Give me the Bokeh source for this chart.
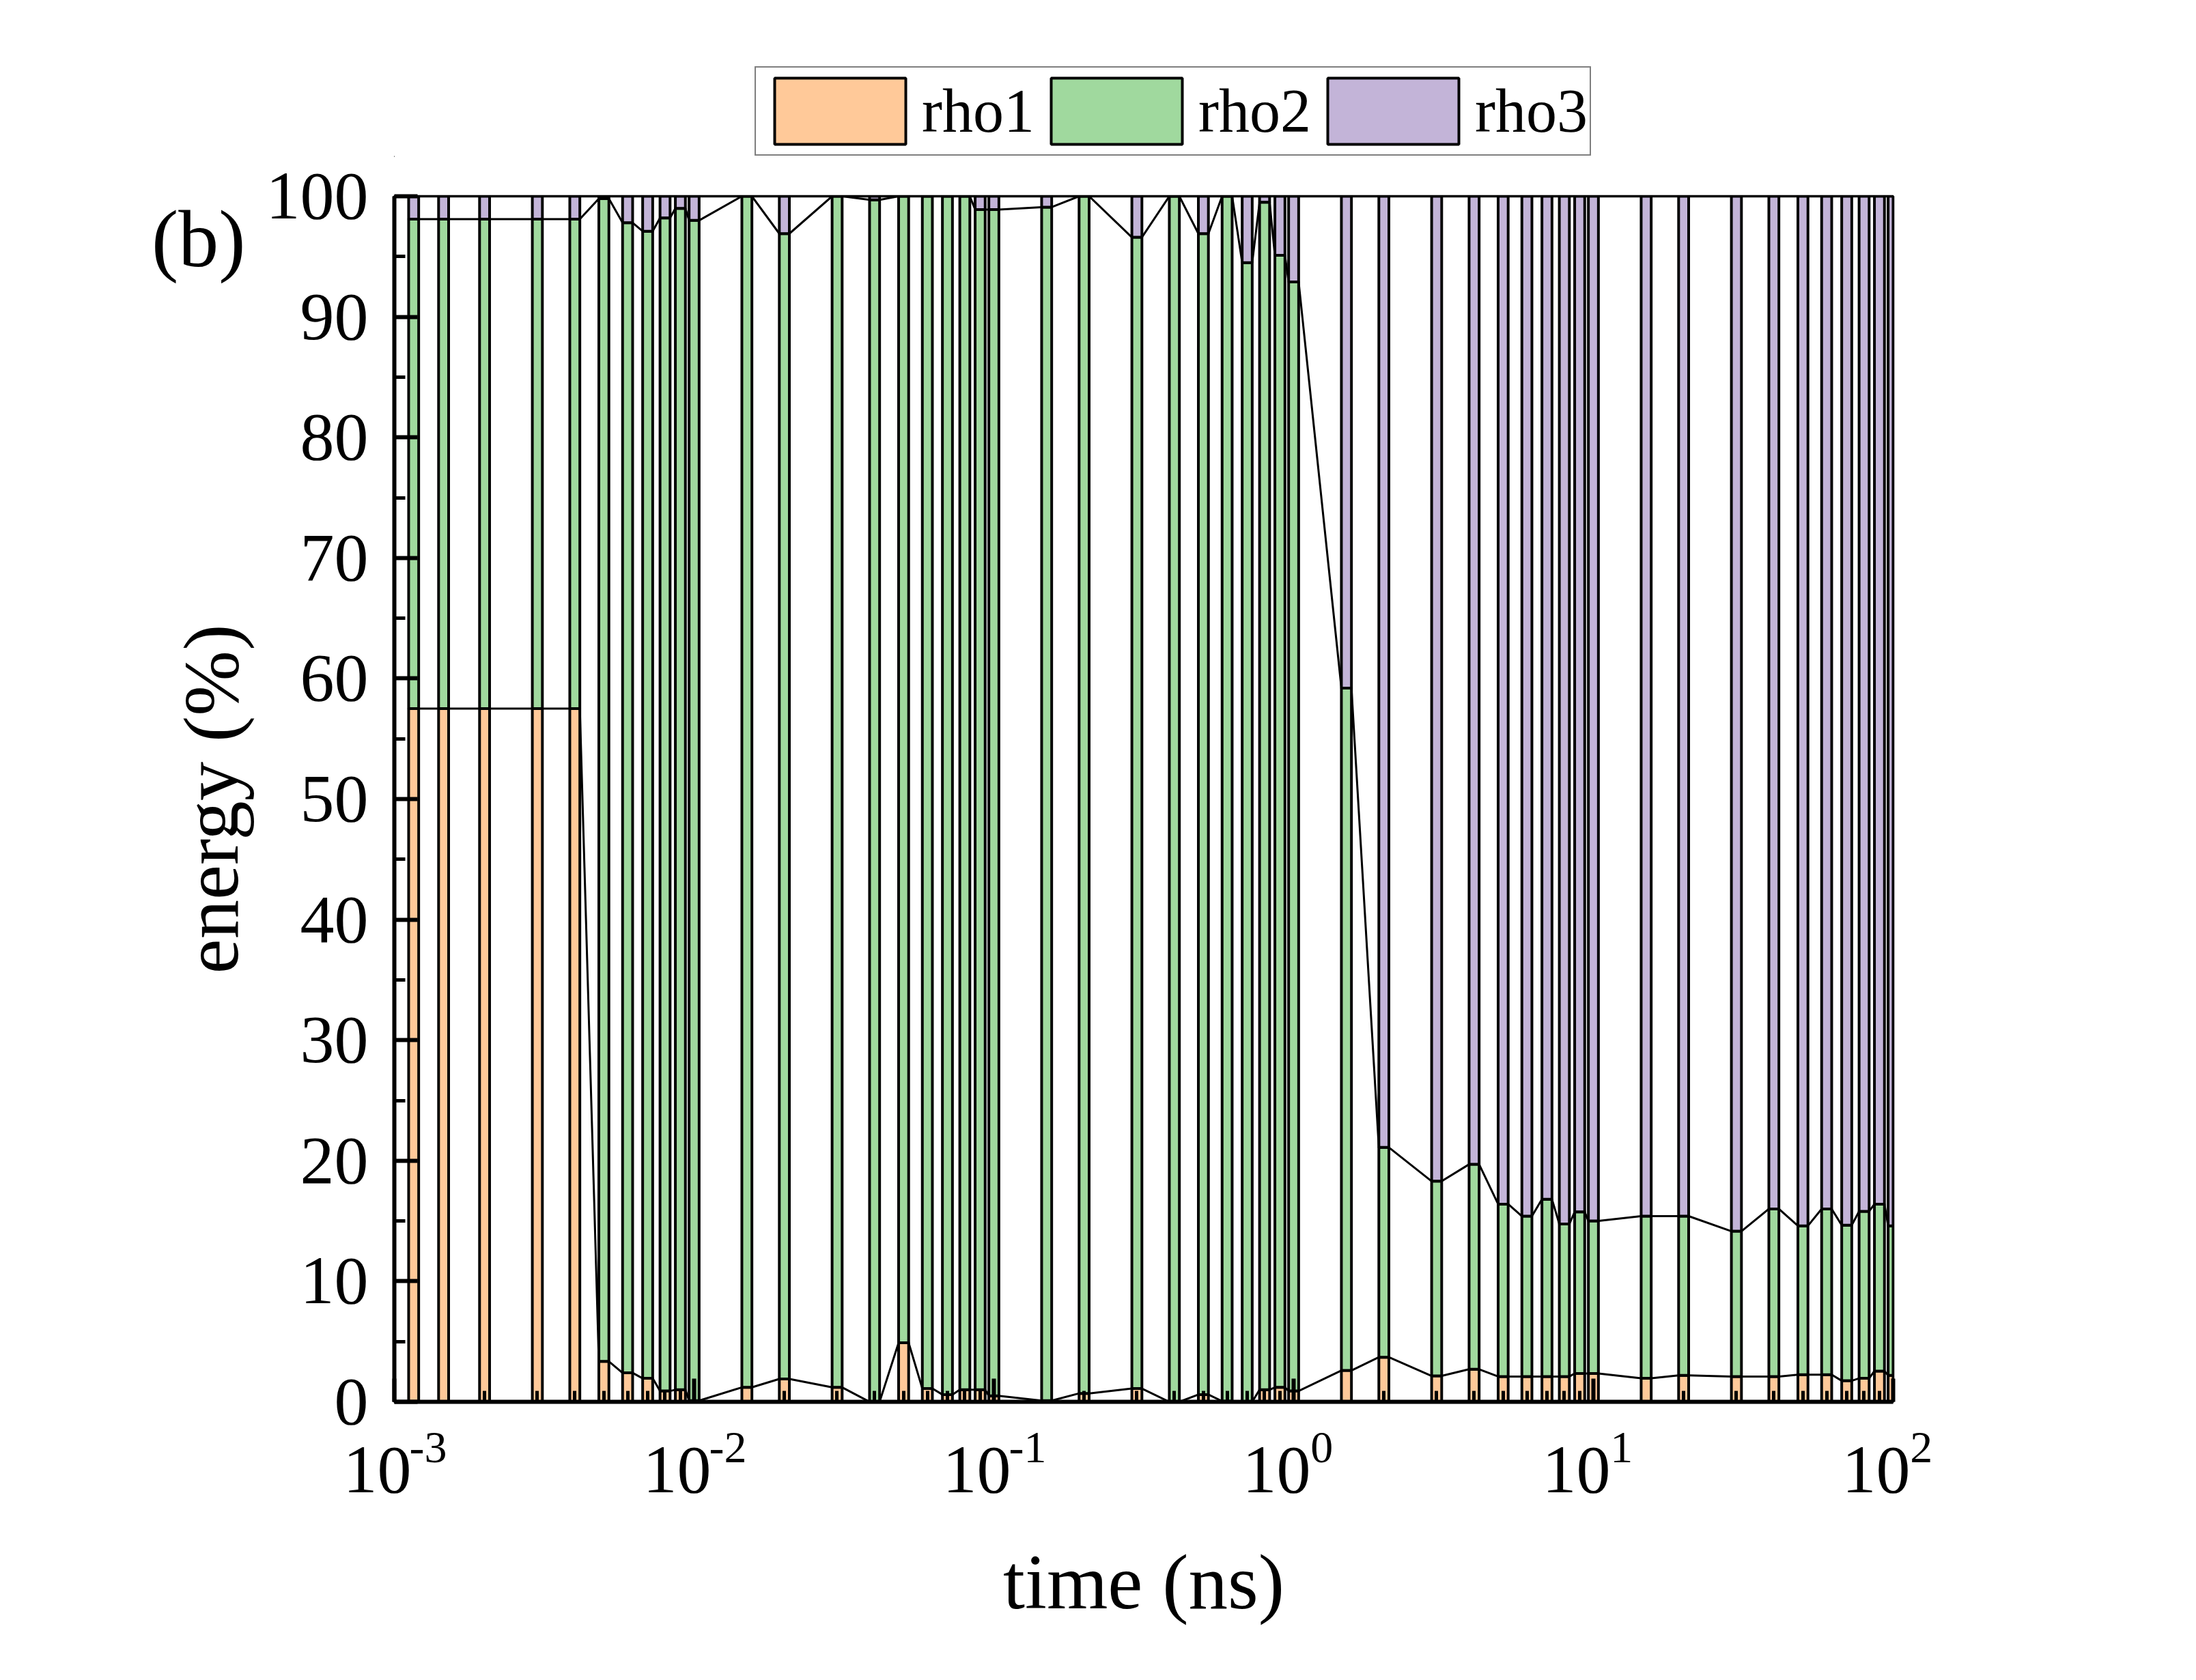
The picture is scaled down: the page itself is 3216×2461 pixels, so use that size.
import math
from bokeh.plotting import figure
from bokeh.layouts import column
from bokeh.models import (Range1d, FixedTicker, Legend, LegendItem, LinearAxis,
                          ColumnDataSource)
from bokeh.embed import file_html
from bokeh.resources import INLINE

# ---------------- data ----------------
times = [0.00116, 0.00146, 0.002, 0.003, 0.004, 0.005, 0.006, 0.007, 0.008, 0.009,
         0.01, 0.015, 0.02, 0.03, 0.04, 0.05, 0.06, 0.07, 0.08, 0.09,
         0.1, 0.15, 0.2, 0.3, 0.4, 0.5, 0.6, 0.7, 0.8, 0.9,
         1.0, 1.5, 2, 3, 4, 5, 6, 7, 8, 9,
         10, 15, 20, 30, 40, 50, 60, 70, 80, 90, 100]

rho1 = [57.5, 57.5, 57.5, 57.5, 57.5, 3.35, 2.4, 1.95, 0.9, 1.0,
        0.1, 1.2, 1.9, 1.2, 0.0, 4.9, 1.1, 0.6, 1.0, 1.0,
        0.5, 0.1, 0.7, 1.1, 0.0, 0.6, 0.05, 0.0, 1.0, 1.2,
        0.9, 2.6, 3.7, 2.15, 2.7, 2.1, 2.1, 2.1, 2.1, 2.35,
        2.35, 1.95, 2.2, 2.1, 2.1, 2.25, 2.25, 1.75, 1.95, 2.55, 2.2]

rho2 = [40.6, 40.6, 40.6, 40.6, 40.6, 96.45, 95.4, 95.15, 97.3, 98.0,
        97.9, 98.8, 95.0, 98.8, 99.7, 95.1, 98.9, 99.4, 99.0, 97.9,
        98.4, 99.0, 99.3, 95.5, 100.0, 96.3, 99.95, 94.5, 98.5, 93.9,
        92.0, 56.6, 17.4, 16.15, 17.0, 14.3, 13.3, 14.7, 12.65, 13.4,
        12.65, 13.45, 13.2, 12.05, 13.9, 12.35, 13.75, 12.9, 13.85, 13.85, 12.4]

rho3 = [1.9, 1.9, 1.9, 1.9, 1.9, 0.2, 2.2, 2.9, 1.8, 1.0,
        2.0, 0.0, 3.1, 0.0, 0.3, 0.0, 0.0, 0.0, 0.0, 1.1,
        1.1, 0.9, 0.0, 3.4, 0.0, 3.1, 0.0, 5.5, 0.5, 4.9,
        7.1, 40.8, 78.9, 81.7, 80.3, 83.6, 84.6, 83.2, 85.25, 84.25,
        85.0, 84.6, 84.6, 85.85, 84.0, 85.4, 84.0, 85.35, 84.2, 83.6, 85.4]

series_names = ["rho1", "rho2", "rho3"]
series_colors = ["#FFC999", "#A0D99E", "#C3B4D8"]

x_major = [-3, -2, -1, 0, 1, 2]          # log10(time) of the decades
x_base = "10"
x_exponents = ["-3", "-2", "-1", "0", "1", "2"]
y_major = list(range(0, 101, 10))
y_minor = list(range(5, 100, 10))
panel_tag = "(b)"

FONT = "Liberation Serif"
NBSP = "\u00a0"

W = 3200
H_LEG = 230            # strip above the chart that holds the legend
H_MAIN = 2445 - H_LEG
FRAME_LEFT = 577
BW = 0.0335            # bar width in decades
BAR_LW = 4

# ---------------- legend strip ----------------
lf = figure(width=W, height=H_LEG, output_backend="svg", toolbar_location=None,
            x_range=Range1d(0, 1), y_range=Range1d(0, 1), title=None,
            x_axis_location=None, y_axis_location=None, min_border=0)
lf.grid.visible = False
lf.outline_line_color = None
lf.background_fill_color = "white"
lf.border_fill_color = "white"
# legend-key renderers: one zero-height key each, kept outside the visible strip
key_src = ColumnDataSource(dict(x=[-1.0], top=[0.0]))
swatches = [lf.vbar(x="x", top="top", width=0.01, source=key_src, fill_color=c,
                    line_color="black", line_width=BAR_LW) for c in series_colors]
legend = Legend(items=[LegendItem(label=n, renderers=[r]) for n, r in zip(series_names, swatches)],
                location=(1105 - FRAME_LEFT, 2), orientation="horizontal",
                glyph_width=240, glyph_height=121, label_standoff=0, spacing=0,
                padding=3, margin=0, border_line_color="black", border_line_width=2.5,
                label_text_font=FONT, label_text_font_size="90px",
                label_text_color="black", background_fill_color="white",
                background_fill_alpha=1.0)
lf.add_layout(legend)

# ---------------- main chart ----------------
p = figure(width=W, height=H_MAIN, output_backend="svg", toolbar_location=None,
           x_range=Range1d(-3, 2), y_range=Range1d(0, 100), title=None,
           min_border_left=FRAME_LEFT, min_border_right=428,
           min_border_top=287 - H_LEG, min_border_bottom=392)
p.xgrid.visible = False
p.ygrid.visible = False
p.outline_line_color = "black"
p.outline_line_width = 3.5
p.background_fill_color = "white"
p.border_fill_color = "white"

lx = [math.log10(t) for t in times]
src = ColumnDataSource(dict(lx=lx, rho1=rho1, rho2=rho2, rho3=rho3))

bars = p.vbar_stack(series_names, x="lx", width=BW, source=src,
                    fill_color=series_colors, line_color="black", line_width=BAR_LW)

# connecting lines (top right corner of a bar to top left corner of the next)
c1 = rho1
c2 = [a + b for a, b in zip(rho1, rho2)]
c3 = [a + b + c for a, b, c in zip(rho1, rho2, rho3)]
for level in (c1, c2, c3):
    xs, ys = [], []
    for xv, yv in zip(lx, level):
        xs += [xv - BW / 2, xv + BW / 2]
        ys += [yv, yv]
    p.line(xs, ys, line_color="black", line_width=3)

# ---------------- axes ----------------
def style_ticks(ax):
    ax.axis_line_width = 6
    ax.axis_line_color = "black"
    ax.major_tick_in = 34
    ax.major_tick_out = 0
    ax.minor_tick_in = 16
    ax.minor_tick_out = 0
    ax.major_tick_line_width = 6
    ax.minor_tick_line_width = 5
    ax.major_label_text_color = "black"
    ax.major_label_text_font = FONT
    ax.axis_label_text_color = "black"
    ax.axis_label_text_font = FONT
    ax.axis_label_text_font_style = "normal"

def bare(ax):
    ax.axis_line_color = None
    ax.major_tick_line_color = None
    ax.minor_tick_line_color = None
    ax.major_tick_in = 0
    ax.major_tick_out = 0
    ax.minor_tick_in = 0
    ax.minor_tick_out = 0
    ax.major_label_text_color = "black"
    ax.major_label_text_font = FONT
    ax.axis_label_text_color = "black"
    ax.axis_label_text_font = FONT
    ax.axis_label_text_font_style = "normal"

# bottom axis: ticks + superscript exponents
xa = p.xaxis[0]
style_ticks(xa)
xa.ticker = FixedTicker(ticks=x_major,
                        minor_ticks=[n + math.log10(k) for n in range(-3, 2) for k in range(2, 10)])
xa.major_label_overrides = {t: NBSP * (6 if e.startswith("-") else 5) + e
                            for t, e in zip(x_major, x_exponents)}
xa.major_label_text_font_size = "66px"
xa.major_label_standoff = 29

# second bottom axis: the "10" bases and the axis title
xb = LinearAxis(ticker=FixedTicker(ticks=x_major))
bare(xb)
xb.major_label_overrides = {t: x_base + NBSP * 2 for t in x_major}
xb.major_label_text_font_size = "100px"
xb.major_label_standoff = -62
xb.axis_label = "time (ns)"
xb.axis_label_text_font_size = "115px"
xb.axis_label_standoff = 43
p.add_layout(xb, "below")

# left axis
ya = p.yaxis[0]
style_ticks(ya)
ya.ticker = FixedTicker(ticks=y_major, minor_ticks=y_minor)
ya.major_label_text_font_size = "100px"
ya.major_label_standoff = 38
ya.axis_label = "energy (%)"
ya.axis_label_text_font_size = "115px"
ya.axis_label_standoff = 14

# panel tag "(b)" carried by a bare outer left axis
tag_y = 96.45
yb = LinearAxis(ticker=FixedTicker(ticks=[tag_y]))
bare(yb)
yb.major_label_overrides = {tag_y: panel_tag}
yb.major_label_text_font_size = "118px"
yb.major_label_standoff = -117
p.add_layout(yb, "left")

layout = column(lf, p)
open("out.html", "w").write(file_html(layout, INLINE))
